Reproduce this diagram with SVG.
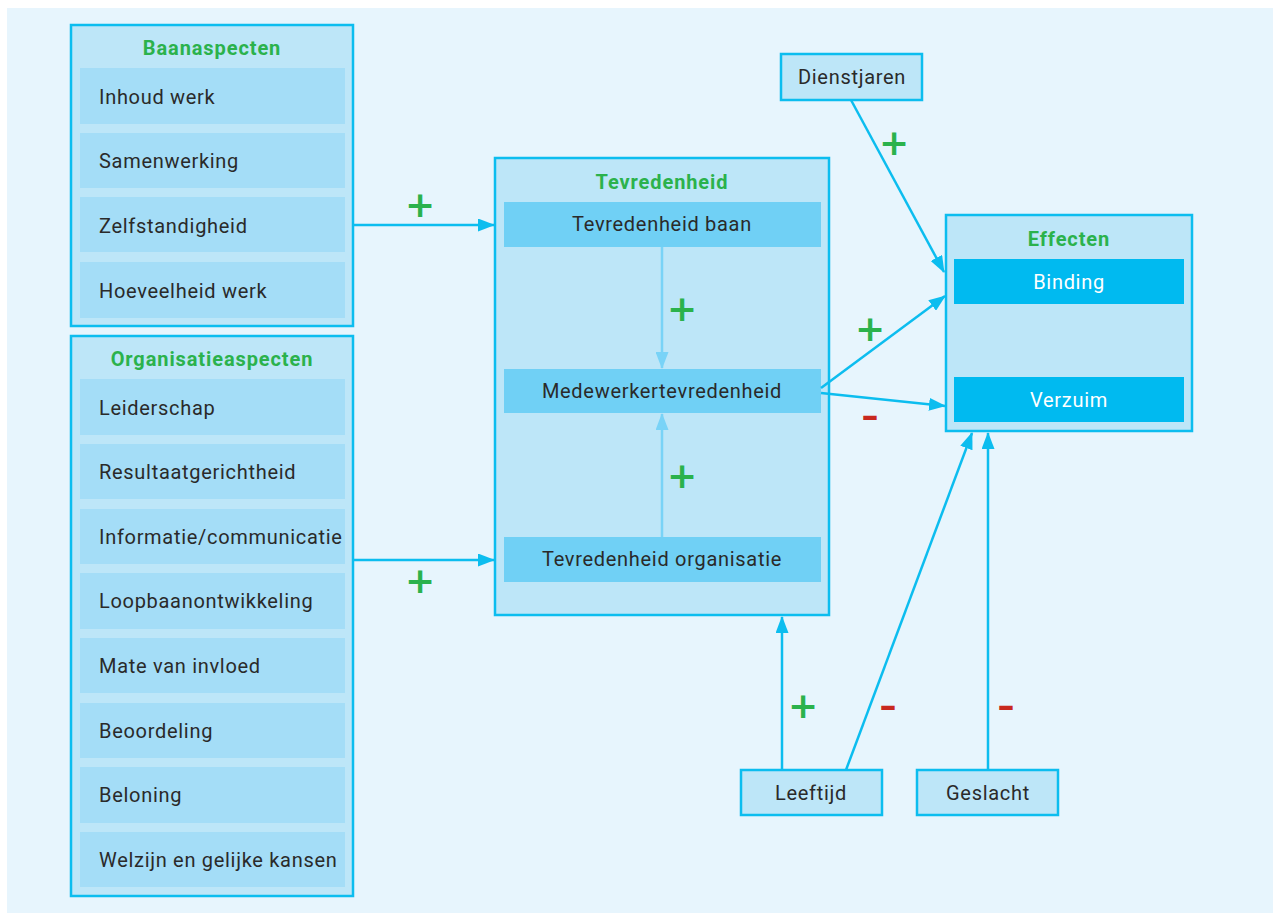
<svg xmlns="http://www.w3.org/2000/svg" width="1279" height="913" viewBox="0 0 1279 913">
<style>
.grp{fill:#bde6f8;stroke:#0cbdef;stroke-width:2.5}
.item{fill:#a4ddf7}
.mid{fill:#70d0f5}
.eff{fill:#00baf0}
.small{fill:#bde6f8;stroke:#0cbdef;stroke-width:2.5}
.t{font-family:Roboto,"Liberation Sans",sans-serif;font-size:20px;fill:#2a2a2a;letter-spacing:0.7px}
.tc{text-anchor:middle}
.tw{fill:#ffffff}
.title{font-family:Roboto,"Liberation Sans",sans-serif;font-size:20px;font-weight:bold;fill:#2bb24c;text-anchor:middle;letter-spacing:0.9px}
.con{stroke:#0cbdef;stroke-width:2.5;fill:none;marker-end:url(#ah)}
.conl{stroke:#79d3f7;stroke-width:2.5;fill:none;marker-end:url(#ahl)}
.plus{font-family:"DejaVu Sans",sans-serif;font-size:36px;font-weight:bold;fill:#2bb24c;text-anchor:middle}
.minus{font-family:"DejaVu Sans",sans-serif;font-size:34px;font-weight:bold;fill:#c8281e;text-anchor:middle}
</style>
<defs>
<marker id="ah" markerWidth="17" markerHeight="13" refX="16" refY="6.5" orient="auto" markerUnits="userSpaceOnUse"><path d="M0,0 L17,6.5 L0,13 Z" fill="#0cbdef"/></marker>
<marker id="ahl" markerWidth="17" markerHeight="13" refX="16" refY="6.5" orient="auto" markerUnits="userSpaceOnUse"><path d="M0,0 L17,6.5 L0,13 Z" fill="#79d3f7"/></marker>
</defs>
<rect x="0" y="0" width="1279" height="913" fill="#ffffff"/>
<rect x="7" y="8" width="1266" height="905" fill="#e7f5fd"/>

<g id="baanaspecten">
<rect class="grp" x="71" y="25" width="282" height="301"/>
<text class="title" x="212" y="55">Baanaspecten</text>
<rect class="item" x="80" y="68" width="265" height="56"/><text class="t" x="99" y="104">Inhoud werk</text>
<rect class="item" x="80" y="133" width="265" height="55"/><text class="t" x="99" y="168">Samenwerking</text>
<rect class="item" x="80" y="197" width="265" height="55"/><text class="t" x="99" y="233">Zelfstandigheid</text>
<rect class="item" x="80" y="262" width="265" height="56"/><text class="t" x="99" y="298">Hoeveelheid werk</text>
</g>

<g id="organisatieaspecten">
<rect class="grp" x="71" y="336" width="282" height="560"/>
<text class="title" x="212" y="366">Organisatieaspecten</text>
<rect class="item" x="80" y="379" width="265" height="56"/><text class="t" x="99" y="415">Leiderschap</text>
<rect class="item" x="80" y="444" width="265" height="55"/><text class="t" x="99" y="479">Resultaatgerichtheid</text>
<rect class="item" x="80" y="509" width="265" height="55"/><text class="t" x="99" y="544">Informatie/communicatie</text>
<rect class="item" x="80" y="573" width="265" height="56"/><text class="t" x="99" y="608">Loopbaanontwikkeling</text>
<rect class="item" x="80" y="638" width="265" height="55"/><text class="t" x="99" y="673">Mate van invloed</text>
<rect class="item" x="80" y="703" width="265" height="55"/><text class="t" x="99" y="738">Beoordeling</text>
<rect class="item" x="80" y="767" width="265" height="56"/><text class="t" x="99" y="802">Beloning</text>
<rect class="item" x="80" y="832" width="265" height="55"/><text class="t" x="99" y="867">Welzijn en gelijke kansen</text>
</g>

<g id="tevredenheid">
<rect class="grp" x="495" y="158" width="334" height="457"/>
<text class="title" x="662" y="189">Tevredenheid</text>
<rect class="mid" x="504" y="202" width="317" height="45"/><text class="t tc" x="662" y="231">Tevredenheid baan</text>
<rect class="mid" x="504" y="369" width="317" height="44"/><text class="t tc" x="662" y="398">Medewerkertevredenheid</text>
<rect class="mid" x="504" y="537" width="317" height="45"/><text class="t tc" x="662" y="566">Tevredenheid organisatie</text>
</g>

<g id="effecten">
<rect class="grp" x="946" y="215" width="246" height="216"/>
<text class="title" x="1069" y="246">Effecten</text>
<rect class="eff" x="954" y="259" width="230" height="45"/><text class="t tc tw" x="1069" y="289">Binding</text>
<rect class="eff" x="954" y="377" width="230" height="45"/><text class="t tc tw" x="1069" y="407">Verzuim</text>
</g>

<g id="dienstjaren">
<rect class="small" x="781" y="54" width="141" height="46"/>
<text class="t tc" x="852" y="84">Dienstjaren</text>
</g>
<g id="leeftijd">
<rect class="small" x="741" y="770" width="141" height="45"/>
<text class="t tc" x="811" y="800">Leeftijd</text>
</g>
<g id="geslacht">
<rect class="small" x="917" y="770" width="141" height="45"/>
<text class="t tc" x="988" y="800">Geslacht</text>
</g>

<g id="connectors">
<line class="con" x1="353" y1="225" x2="494" y2="225"/>
<line class="con" x1="353" y1="560" x2="494" y2="560"/>
<line class="conl" x1="662" y1="247" x2="662" y2="368"/>
<line class="conl" x1="662" y1="537" x2="662" y2="414"/>
<line class="con" x1="851" y1="100" x2="944" y2="272"/>
<line class="con" x1="821" y1="388" x2="945" y2="296"/>
<line class="con" x1="821" y1="393" x2="945" y2="406"/>
<line class="con" x1="782" y1="770" x2="782" y2="617"/>
<line class="con" x1="846" y1="770" x2="972" y2="433"/>
<line class="con" x1="988" y1="770" x2="988" y2="433"/>
<text class="plus" x="420" y="217">+</text>
<text class="plus" x="420" y="593">+</text>
<text class="plus" x="682" y="321">+</text>
<text class="plus" x="682" y="488">+</text>
<text class="plus" x="894" y="155">+</text>
<text class="plus" x="870" y="341">+</text>
<text class="plus" x="803" y="718">+</text>
<text class="minus" x="870" y="427">–</text>
<text class="minus" x="888" y="717">–</text>
<text class="minus" x="1006" y="717">–</text>
</g>
</svg>
